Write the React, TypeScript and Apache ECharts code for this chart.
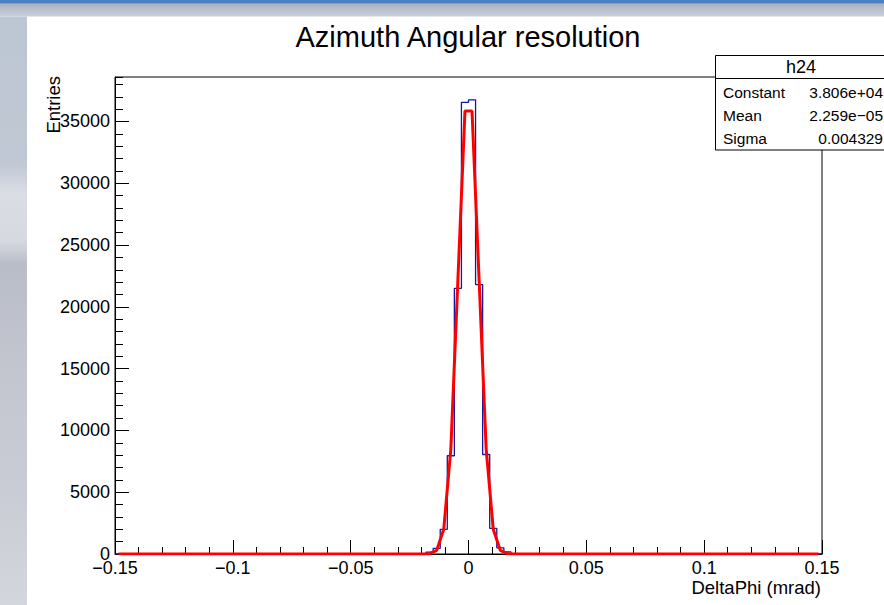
import React, { useEffect, useRef } from 'react';
import * as echarts from 'echarts';

// Histogram binning: 100 bins from -0.15 to 0.15
const binMin = -0.15;
const binWidth = 0.003;
// Bin contents (bins 0..99)
const binContents: number[] = [
  0, 0, 0, 0, 0, 0, 0, 0, 0, 0,
  0, 0, 0, 0, 0, 0, 0, 0, 0, 0,
  0, 0, 0, 0, 0, 0, 0, 0, 0, 0,
  0, 0, 0, 0, 0, 0, 0, 0, 0, 0,
  0, 0, 0, 20, 150, 460, 2000, 7950, 21500, 36550,
  36750, 21800, 8050, 2080, 500, 180, 20, 0, 0, 0,
  0, 0, 0, 0, 0, 0, 0, 0, 0, 0,
  0, 0, 0, 0, 0, 0, 0, 0, 0, 0,
  0, 0, 0, 0, 0, 0, 0, 0, 0, 0,
  0, 0, 0, 0, 0, 0, 0, 0, 0, 0,
];

// Gaussian fit polyline
const fitX: number[] = [-0.1485, -0.0225, -0.0195, -0.0165, -0.0135, -0.0105, -0.0075, -0.0045, -0.0015,
  0.0015, 0.0045, 0.0075, 0.0105, 0.0135, 0.0165, 0.0195, 0.0225, 0.1485];
const fitY: number[] = [0, 0, 1, 27, 294, 2010, 8490, 22170, 35840,
  35840, 22170, 8490, 2010, 294, 27, 1, 0, 0];

const titleText = 'Azimuth Angular resolution';
const xTitle = 'DeltaPhi (mrad)';
const yTitle = 'Entries';
const statsName = 'h24';
const statsLabels = ['Constant', 'Mean', 'Sigma'];
const statsValues = ['3.806e+04', '2.259e\u221205', '0.004329'];

const FONT = '"Liberation Sans", Arial, Helvetica, sans-serif';

function fmtX(v: number): string {
  const r = Math.round(v * 100) / 100;
  if (Math.abs(r) < 1e-9) return '0';
  const s = String(Math.abs(r));
  return r < 0 ? '\u2212' + s : s;
}

export default function App() {
  const ref = useRef<HTMLDivElement>(null);
  useEffect(() => {
    document.body.style.margin = '0';
    const chart = echarts.init(ref.current!, null, { renderer: 'svg' });
    const histPts: number[][] = [];
    binContents.forEach((c, i) => {
      const x0 = binMin + i * binWidth;
      const x1 = binMin + (i + 1) * binWidth;
      histPts.push([x0, c], [x1, c]);
    });
    const fitPts = fitX.map((x, i) => [x, fitY[i]]);
    const black = '#000';
    const yMax = 38600;

    const statsTexts: any[] = [];
    const rowY = [92, 115, 138];
    statsLabels.forEach((l, i) => {
      statsTexts.push({
        type: 'text', x: 723, y: rowY[i], z: 101,
        style: { text: l, fontSize: 15.5, fontFamily: FONT, fill: black, textAlign: 'left', textVerticalAlign: 'middle' },
      });
      statsTexts.push({
        type: 'text', x: 883, y: rowY[i], z: 101,
        style: { text: statsValues[i], fontSize: 15.5, fontFamily: FONT, fill: black, textAlign: 'right', textVerticalAlign: 'middle' },
      });
    });

    chart.setOption({
      animation: false,
      backgroundColor: '#ffffff',
      grid: {
        left: 115, top: 77, right: 62, bottom: 51,
        show: true, borderColor: black, borderWidth: 1, backgroundColor: 'transparent',
      },
      xAxis: [
        {
          type: 'value', min: -0.15, max: 0.15, interval: 0.01, position: 'bottom',
          axisLine: { show: true, onZero: false, lineStyle: { color: black, width: 1 } },
          axisTick: { show: true, inside: true, length: 7, lineStyle: { color: black } },
          axisLabel: { show: false },
          splitLine: { show: false },
        },
        {
          type: 'value', min: -0.15, max: 0.15, interval: 0.05, position: 'bottom',
          axisLine: { show: false, onZero: false },
          axisTick: { show: true, inside: true, length: 14, lineStyle: { color: black } },
          axisLabel: { show: true, formatter: fmtX, fontSize: 18, fontFamily: FONT, color: black, margin: 5 },
          splitLine: { show: false },
        },
      ],
      yAxis: [
        {
          type: 'value', min: 0, max: yMax, interval: 1000, position: 'left',
          axisLine: { show: true, onZero: false, lineStyle: { color: black, width: 1 } },
          axisTick: { show: true, inside: true, length: 8, lineStyle: { color: black } },
          axisLabel: { show: false },
          splitLine: { show: false },
        },
        {
          type: 'value', min: 0, max: yMax, interval: 5000, position: 'left',
          axisLine: { show: false, onZero: false },
          axisTick: { show: true, inside: true, length: 14, lineStyle: { color: black } },
          axisLabel: {
            show: true, fontSize: 18, fontFamily: FONT, color: black, margin: 5, showMaxLabel: false,
            formatter: (v: number) => (Math.round(v) % 5000 === 0 ? String(Math.round(v)) : ''),
          },
          splitLine: { show: false },
        },
      ],
      series: [
        {
          type: 'line', data: histPts, symbol: 'none', z: 3,
          lineStyle: { color: '#1616a4', width: 1.3 },
        },
        {
          type: 'line', data: fitPts, symbol: 'none', z: 4,
          lineStyle: { color: '#ff0000', width: 3 },
        },
      ],
      graphic: [
        {
          type: 'rect', shape: { x: 0, y: 0, width: 884, height: 16.5 }, z: 50,
          style: {
            fill: new echarts.graphic.LinearGradient(0, 0, 0, 1, [
              { offset: 0, color: '#4a7fc1' },
              { offset: 0.2, color: '#4a7fc1' },
              { offset: 0.22, color: '#a9b2bf' },
              { offset: 1, color: '#cbd0d8' },
            ]),
          },
        },
        {
          type: 'rect', shape: { x: 0, y: 16.5, width: 27, height: 590 }, z: 50,
          style: {
            fill: new echarts.graphic.LinearGradient(0, 0, 0, 1, [
              { offset: 0, color: '#bdc6d3' },
              { offset: 0.25, color: '#c0c8d4' },
              { offset: 0.3, color: '#dadde3' },
              { offset: 0.38, color: '#d6d9df' },
              { offset: 0.42, color: '#b9bdc7' },
              { offset: 0.6, color: '#c3c6cf' },
              { offset: 0.8, color: '#c9ccd4' },
              { offset: 1, color: '#d3d6dc' },
            ]),
          },
        },
        {
          type: 'text', x: 468, y: 37, z: 60,
          style: { text: titleText, fontSize: 29, fontFamily: FONT, fill: black, textAlign: 'center', textVerticalAlign: 'middle' },
        },
        {
          type: 'text', x: 821, y: 587, z: 60,
          style: { text: xTitle, fontSize: 18.5, fontFamily: FONT, fill: black, textAlign: 'right', textVerticalAlign: 'middle' },
        },
        {
          type: 'text', x: 53, y: 76, rotation: Math.PI / 2, z: 60,
          style: { text: yTitle, fontSize: 18.5, fontFamily: FONT, fill: black, textAlign: 'right', textVerticalAlign: 'middle' },
        },
        {
          type: 'rect', shape: { x: 715.5, y: 55.5, width: 180, height: 94.5 }, z: 100,
          style: { fill: '#fff', stroke: black, lineWidth: 1 },
        },
        {
          type: 'line', shape: { x1: 715.5, y1: 78.5, x2: 884, y2: 78.5 }, z: 101,
          style: { stroke: black, lineWidth: 1 },
        },
        {
          type: 'text', x: 801, y: 67, z: 101,
          style: { text: statsName, fontSize: 18, fontFamily: FONT, fill: black, textAlign: 'center', textVerticalAlign: 'middle' },
        },
        ...statsTexts,
      ],
    });
    return () => chart.dispose();
  }, []);
  return <div ref={ref} style={{ width: 884, height: 605, position: 'absolute', left: 0, top: 0 }} />;
}
